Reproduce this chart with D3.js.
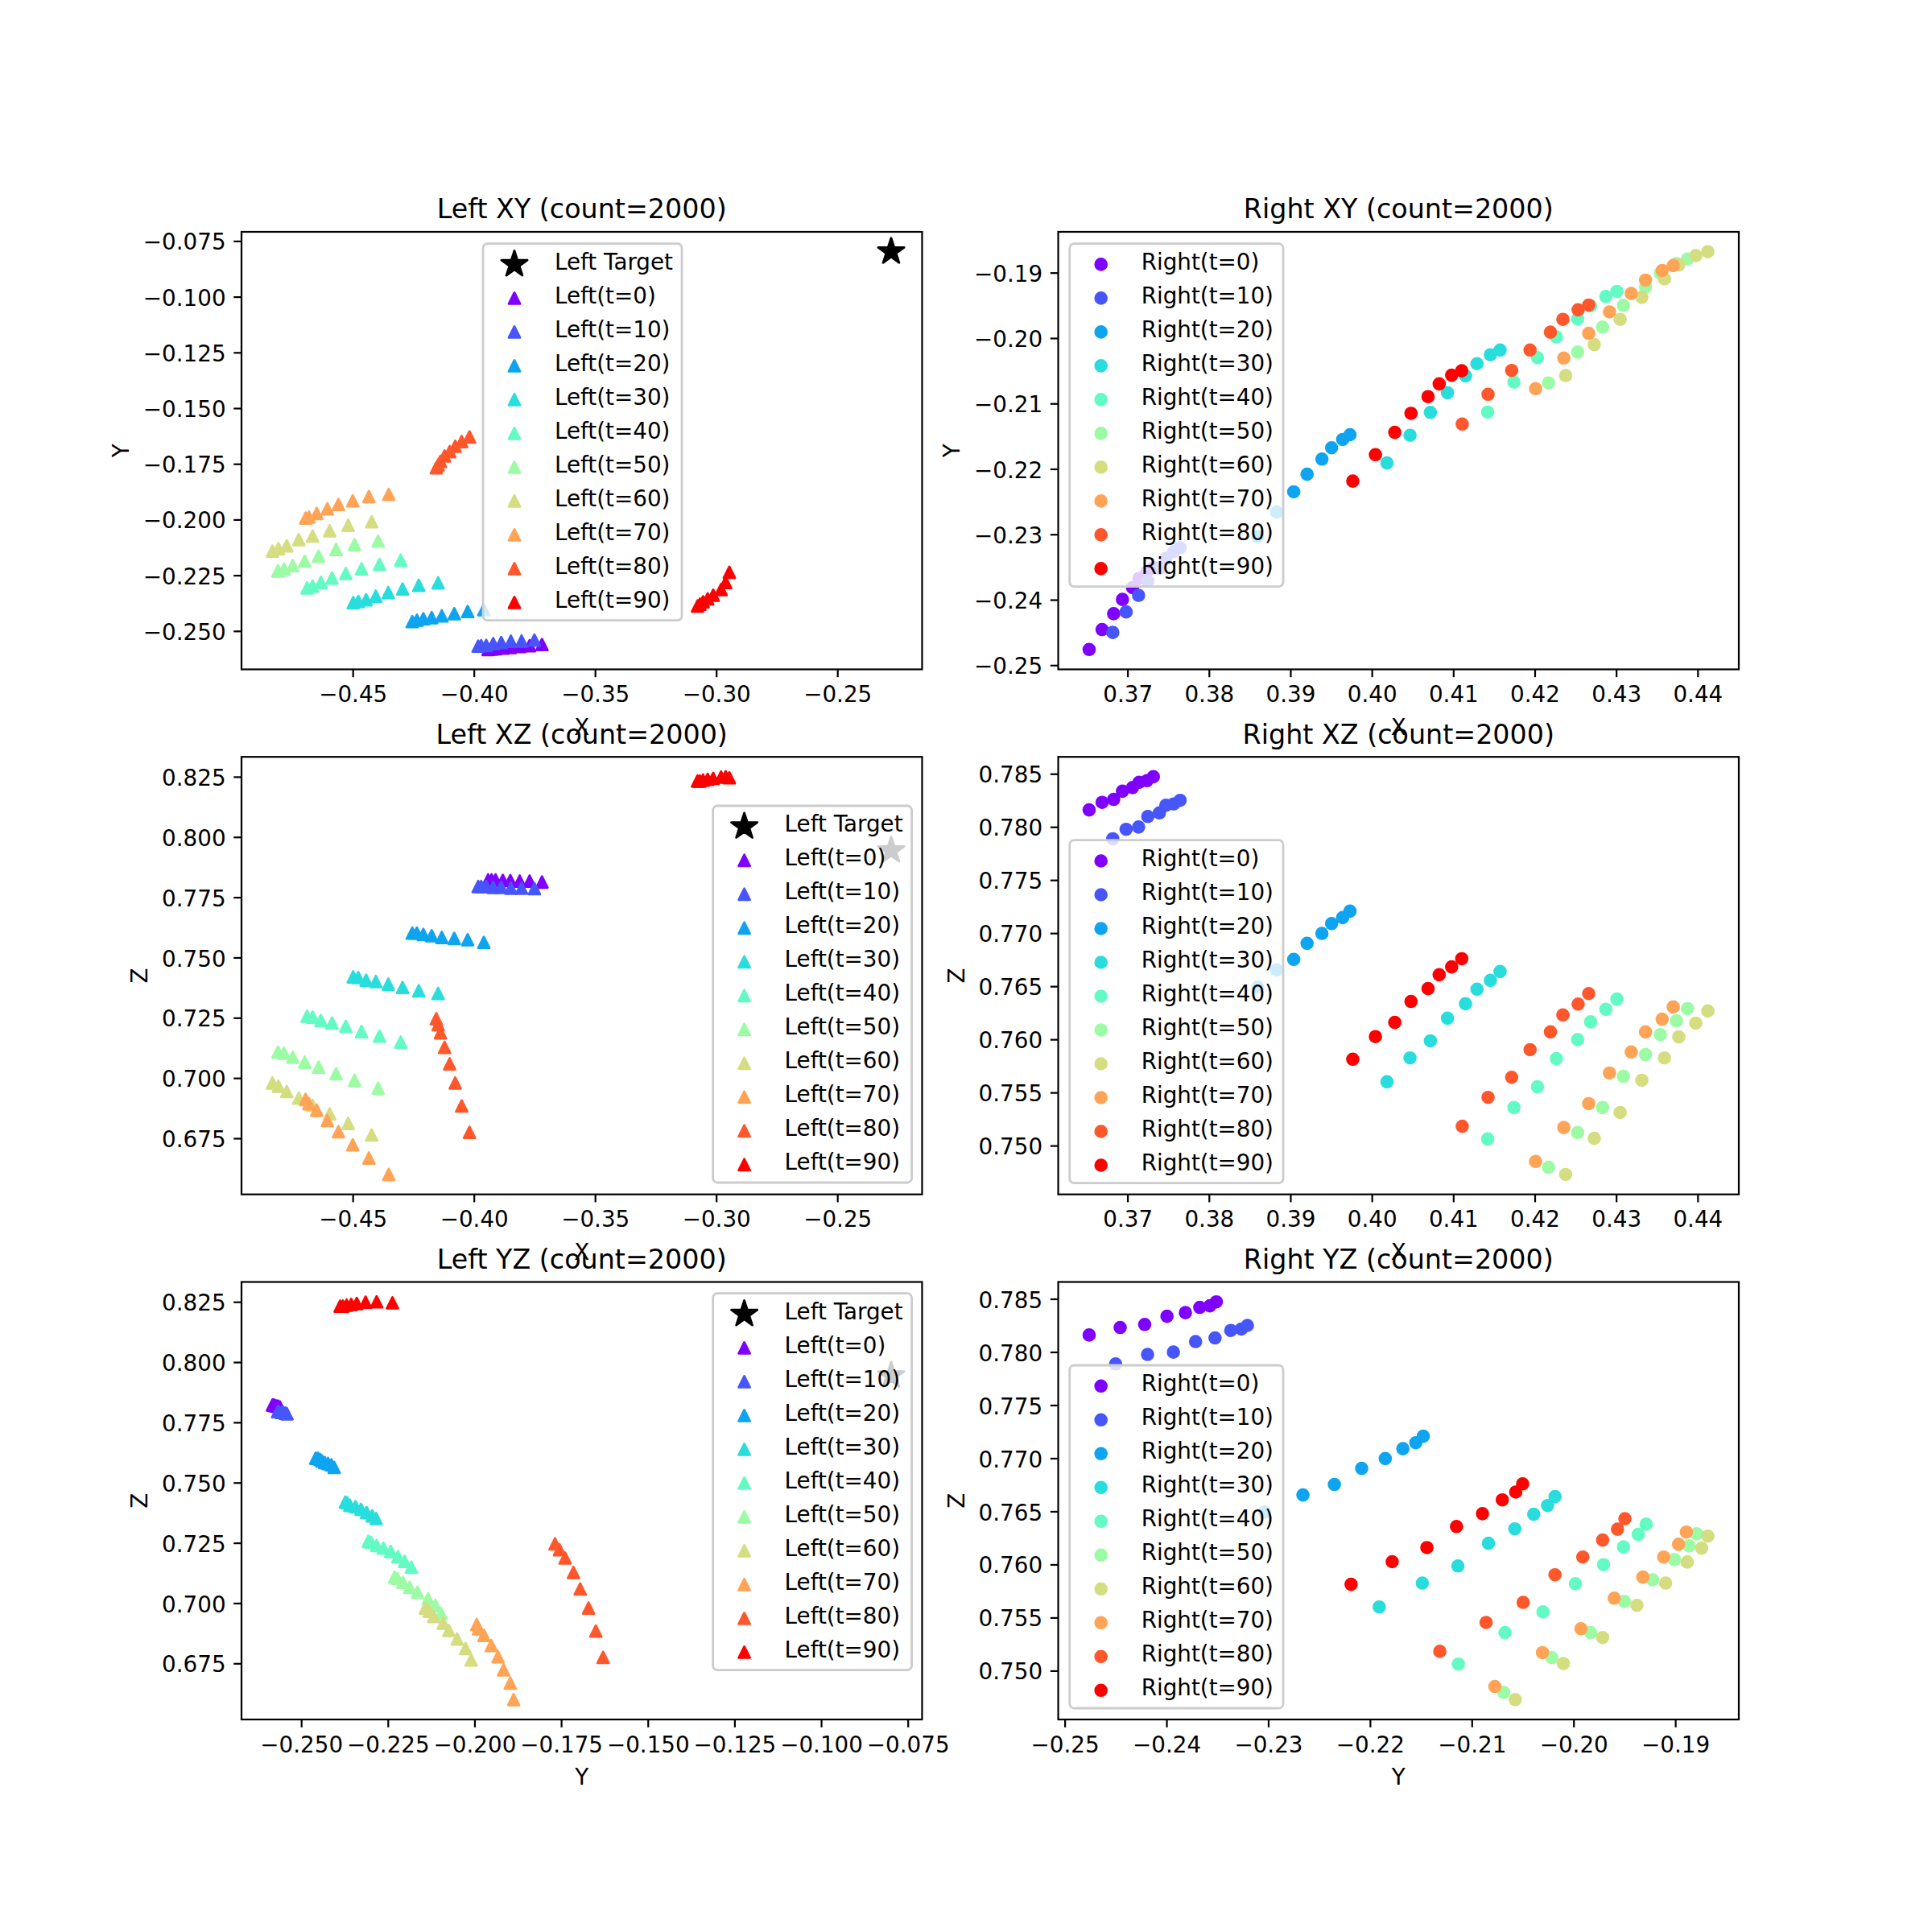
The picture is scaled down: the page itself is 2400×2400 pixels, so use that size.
<!DOCTYPE html>
<html>
<head>
<meta charset="utf-8">
<script src="https://cdn.jsdelivr.net/npm/d3@7"></script>
<style>
	html, body { margin: 0; background: #fff; }
	text { font-family: "DejaVu Sans", sans-serif; fill: #000; }
</style>
</head>
<body>
<script>
const times = [0, 10, 20, 30, 40, 50, 60, 70, 80, 90]
const colors = ['#7f00ff', '#4756fb', '#0ea4f0', '#2adddd', '#63fbc3', '#9cfba4', '#d4dd80', '#ffa457', '#ff572c', '#ff0000']

const leftTarget = [-0.2278, -0.0798, 0.7944]

const leftX = [
	[-0.39413, -0.3927, -0.39103, -0.38806, -0.38497, -0.38109, -0.37701, -0.3719],
	[-0.39824, -0.39701, -0.39492, -0.39204, -0.38872, -0.38474, -0.38032, -0.37502],
	[-0.42543, -0.42352, -0.42086, -0.41743, -0.41324, -0.4081, -0.40257, -0.3959],
	[-0.44981, -0.44771, -0.44448, -0.44048, -0.43533, -0.42943, -0.42276, -0.41476],
	[-0.46886, -0.46657, -0.46314, -0.45857, -0.45286, -0.44638, -0.43895, -0.43019],
	[-0.48086, -0.47838, -0.47476, -0.46981, -0.4641, -0.45686, -0.44924, -0.43952],
	[-0.48314, -0.48067, -0.47724, -0.47229, -0.46657, -0.45952, -0.4519, -0.44219],
	[-0.46943, -0.4681, -0.46486, -0.46048, -0.4559, -0.45, -0.44333, -0.43514],
	[-0.41552, -0.41476, -0.41381, -0.4121, -0.41, -0.40771, -0.40505, -0.40181],
	[-0.30771, -0.30676, -0.30543, -0.30352, -0.30124, -0.298, -0.2961, -0.29457]
]
const leftY = [
	[-0.2583, -0.2581, -0.258, -0.2577, -0.2574, -0.257, -0.2566, -0.2561],
	[-0.2568, -0.2566, -0.2565, -0.2557, -0.2552, -0.2546, -0.2545, -0.2541],
	[-0.24581, -0.24516, -0.24452, -0.24403, -0.24323, -0.24226, -0.24129, -0.24048],
	[-0.23726, -0.23677, -0.23597, -0.23435, -0.23274, -0.23113, -0.22952, -0.22839],
	[-0.23065, -0.22984, -0.22823, -0.22629, -0.22419, -0.2221, -0.22016, -0.21823],
	[-0.22306, -0.22226, -0.22065, -0.21871, -0.21645, -0.21339, -0.21129, -0.20968],
	[-0.21419, -0.21306, -0.21177, -0.20903, -0.20742, -0.205, -0.20258, -0.20097],
	[-0.19935, -0.19887, -0.19726, -0.19516, -0.19323, -0.19161, -0.18968, -0.18871],
	[-0.17677, -0.17548, -0.17387, -0.17145, -0.16952, -0.1671, -0.165, -0.1629],
	[-0.23878, -0.23798, -0.23691, -0.23557, -0.23397, -0.23143, -0.22823, -0.22368]
]
const leftZ = [
	[0.7822, 0.7822, 0.7822, 0.782, 0.7819, 0.7817, 0.7817, 0.7813],
	[0.77945, 0.77945, 0.77945, 0.77912, 0.77912, 0.77878, 0.77878, 0.77855],
	[0.76011, 0.76011, 0.75956, 0.75902, 0.75833, 0.75792, 0.75738, 0.75628],
	[0.74194, 0.74167, 0.74057, 0.74003, 0.73893, 0.73757, 0.7362, 0.73511],
	[0.72568, 0.72527, 0.72391, 0.72281, 0.72145, 0.71926, 0.71735, 0.71489],
	[0.71079, 0.71025, 0.70861, 0.70656, 0.70451, 0.70178, 0.69904, 0.69577],
	[0.69795, 0.69658, 0.6944, 0.69167, 0.68866, 0.68511, 0.68115, 0.67637],
	[0.69112, 0.68934, 0.68661, 0.68238, 0.67773, 0.67227, 0.6668, 0.65997],
	[0.72459, 0.72213, 0.71872, 0.7127, 0.70587, 0.69795, 0.68839, 0.67746],
	[0.82322, 0.82322, 0.82363, 0.82391, 0.82432, 0.82486, 0.825, 0.82459]
]

const rightX = [
	[0.36529, 0.36688, 0.3683, 0.36938, 0.37062, 0.37142, 0.37238, 0.37317],
	[0.36819, 0.36983, 0.37136, 0.37249, 0.37391, 0.37471, 0.37567, 0.37646],
	[0.38599, 0.38831, 0.39041, 0.39205, 0.39387, 0.39506, 0.39642, 0.39732],
	[0.40186, 0.40469, 0.40719, 0.40929, 0.4115, 0.41291, 0.41456, 0.41575],
	[0.41422, 0.41745, 0.42034, 0.42266, 0.42527, 0.42686, 0.42873, 0.43009],
	[0.4217, 0.42527, 0.42833, 0.43088, 0.43361, 0.43542, 0.4374, 0.43876],
	[0.4238, 0.42731, 0.43049, 0.43315, 0.43593, 0.43769, 0.43978, 0.44126],
	[0.42011, 0.42357, 0.42663, 0.42918, 0.43185, 0.43361, 0.43565, 0.43701],
	[0.4111, 0.41427, 0.41717, 0.41943, 0.42193, 0.42346, 0.42533, 0.42663],
	[0.39766, 0.40044, 0.40282, 0.40481, 0.4069, 0.40827, 0.4098, 0.41104]
]
const rightY = [
	[-0.2476, -0.24455, -0.24214, -0.23995, -0.23814, -0.23673, -0.23573, -0.2351],
	[-0.245, -0.24186, -0.23932, -0.23714, -0.23523, -0.23368, -0.23264, -0.23205],
	[-0.23036, -0.22659, -0.2235, -0.22082, -0.2185, -0.21677, -0.2155, -0.21477],
	[-0.21909, -0.21486, -0.21136, -0.20836, -0.20577, -0.20391, -0.20255, -0.20182],
	[-0.21132, -0.20673, -0.203, -0.19982, -0.19705, -0.19509, -0.19364, -0.19286],
	[-0.20686, -0.20214, -0.19832, -0.195, -0.19223, -0.19009, -0.18864, -0.18791],
	[-0.20573, -0.201, -0.19714, -0.19377, -0.19095, -0.18882, -0.18741, -0.1868],
	[-0.20773, -0.20305, -0.19927, -0.196, -0.19318, -0.19114, -0.18968, -0.18891],
	[-0.21314, -0.20859, -0.20495, -0.20182, -0.19909, -0.19714, -0.19568, -0.19495],
	[-0.22186, -0.21782, -0.21441, -0.2115, -0.20895, -0.207, -0.20568, -0.205]
]
const rightZ = [
	[0.7816, 0.78231, 0.78259, 0.78336, 0.7837, 0.7842, 0.78435, 0.78472],
	[0.77888, 0.77977, 0.77999, 0.78098, 0.78132, 0.78203, 0.78216, 0.7825],
	[0.76493, 0.76654, 0.76753, 0.76904, 0.76997, 0.7709, 0.77146, 0.77207],
	[0.756, 0.75825, 0.75986, 0.76199, 0.76335, 0.76472, 0.76555, 0.76639],
	[0.75062, 0.75358, 0.75553, 0.75819, 0.75998, 0.76165, 0.76283, 0.76379],
	[0.74796, 0.75123, 0.75358, 0.75652, 0.75856, 0.76045, 0.76175, 0.76289],
	[0.74728, 0.75068, 0.75312, 0.75615, 0.75825, 0.76023, 0.76153, 0.76267],
	[0.74851, 0.7517, 0.75395, 0.75683, 0.75881, 0.7607, 0.7619, 0.76305],
	[0.75182, 0.75454, 0.75643, 0.75903, 0.7607, 0.7623, 0.76332, 0.76431],
	[0.75813, 0.76026, 0.76159, 0.76357, 0.76478, 0.76608, 0.76682, 0.76759]
]

const leftXTicks = [-0.45, -0.40, -0.35, -0.30, -0.25]
const leftYTicks = [-0.25, -0.225, -0.2, -0.175, -0.15, -0.125, -0.1, -0.075]
const leftZTicks = [0.675, 0.7, 0.725, 0.75, 0.775, 0.8, 0.825]
const rightXTicks = [0.37, 0.38, 0.39, 0.40, 0.41, 0.42, 0.43, 0.44]
const rightYTicks = [-0.25, -0.24, -0.23, -0.22, -0.21, -0.20, -0.19]
const rightZTicks = [0.75, 0.755, 0.76, 0.765, 0.77, 0.775, 0.78, 0.785]

const dpi = 200 / 72
const fontSize = 10 * dpi
const titleSize = 12 * dpi
const markerLine = 2.8
const axisWidth = 845.45
const axisHeight = 543.5
const colLeft = [300, 1314.55]
const rowTop = [288, 940.2, 1592.5]

const panels = [
	{ title: 'Left XY', col: 0, row: 0, side: 'Left', xs: leftX, ys: leftY, target: [leftTarget[0], leftTarget[1]], xName: 'X', yName: 'Y', xTicks: leftXTicks, yTicks: leftYTicks, xFmt: '.2f', legend: [600, 302.6] },
	{ title: 'Right XY', col: 1, row: 0, side: 'Right', xs: rightX, ys: rightY, xName: 'X', yName: 'Y', xTicks: rightXTicks, yTicks: rightYTicks, xFmt: '.2f', yFmt: '.2f', legend: [1328.7, 302.6] },
	{ title: 'Left XZ', col: 0, row: 1, side: 'Left', xs: leftX, ys: leftZ, target: [leftTarget[0], leftTarget[2]], xName: 'X', yName: 'Z', xTicks: leftXTicks, yTicks: leftZTicks, xFmt: '.2f', legend: [885.6, 1001] },
	{ title: 'Right XZ', col: 1, row: 1, side: 'Right', xs: rightX, ys: rightZ, xName: 'X', yName: 'Z', xTicks: rightXTicks, yTicks: rightZTicks, xFmt: '.2f', legend: [1328.7, 1043.7] },
	{ title: 'Left YZ', col: 0, row: 2, side: 'Left', xs: leftY, ys: leftZ, target: [leftTarget[1], leftTarget[2]], xName: 'Y', yName: 'Z', xTicks: leftYTicks, yTicks: leftZTicks, xFmt: '.3f', legend: [885.6, 1606.6] },
	{ title: 'Right YZ', col: 1, row: 2, side: 'Right', xs: rightY, ys: rightZ, xName: 'Y', yName: 'Z', xTicks: rightYTicks, yTicks: rightZTicks, xFmt: '.2f', legend: [1328.7, 1696] }
]

// matplotlib's '^' is as wide as it is tall, d3.symbolTriangle is not
const triangleMark = {
	draw (context, size) {
		const h = Math.sqrt(size) / 2
		context.moveTo(0, -h)
		context.lineTo(h, h)
		context.lineTo(-h, h)
		context.closePath()
	}
}

const trianglePath = d3.symbol(triangleMark, 196)()
const circlePath = d3.symbol(d3.symbolCircle, Math.PI * 6.9 * 6.9)()
const starPath = d3.symbol(d3.symbolStar, 321)()

const svg = d3.select('body')
	.append('svg')
		.attr('width', 2400)
		.attr('height', 2400)
		.attr('viewBox', '0 0 2400 2400')
		.style('display', 'block')

// same 5% margin autoscale as the original
function paddedScale (values, range) {
	const [lo, hi] = d3.extent(values)
	const pad = (hi - lo) * 0.05
	return d3.scaleLinear().domain([lo - pad, hi + pad]).range(range)
}

function addMark (selection, path, color, x, y) {
	selection.append('path')
		.attr('d', path)
		.attr('transform', `translate(${x},${y})`)
		.attr('fill', color)
		.attr('stroke', color)
		.attr('stroke-width', markerLine)
		.attr('stroke-linejoin', 'round')
}

function styleAxis (axis, dy) {
	axis.attr('font-family', null).attr('font-size', null)
	axis.select('.domain').remove()
	axis.selectAll('.tick line').attr('stroke', '#000').attr('stroke-width', 0.8 * dpi)
	axis.selectAll('.tick text').attr('dy', dy).style('font-size', fontSize + 'px')
}

function drawLegend (axes, panel) {
	const [left, top] = panel.legend
	const mark = panel.side === 'Left' ? trianglePath : circlePath
	const rows = times.map((t, i) => ({
		label: panel.side + '(t=' + t + ')',
		color: colors[i],
		path: mark
	}))
	if (panel.target) {
		rows.unshift({ label: panel.side + ' Target', color: '#000', path: starPath })
	}
	const legend = axes.append('g').attr('class', 'legend')

	legend.append('rect')
		.attr('x', left)
		.attr('y', top)
		.attr('width', panel.side === 'Left' ? 247 : 265.3)
		.attr('height', rows.length * 42 + 6)
		.attr('rx', 0.2 * fontSize)
		.attr('fill', '#fff')
		.attr('fill-opacity', 0.8)
		.attr('stroke', '#ccc')
		.attr('stroke-width', dpi)

	rows.forEach((row, i) => {
		addMark(legend, row.path, row.color, left + 39, top + 25.8 + i * 42)
		legend.append('text')
			.attr('x', left + 89)
			.attr('y', top + 32 + i * 42)
			.style('font-size', fontSize + 'px')
			.text(row.label)
	})
}

function drawPanel (panel) {
	const left = colLeft[panel.col]
	const top = rowTop[panel.row]
	const right = left + axisWidth
	const bottom = top + axisHeight
	const targetX = panel.target ? [panel.target[0]] : []
	const targetY = panel.target ? [panel.target[1]] : []
	const x = paddedScale(panel.xs.flat().concat(targetX), [left, right])
	const y = paddedScale(panel.ys.flat().concat(targetY), [bottom, top])
	const axes = svg.append('g').attr('class', 'axes')
	const mark = panel.side === 'Left' ? trianglePath : circlePath

	if (panel.target) {
		addMark(axes, starPath, '#000', x(panel.target[0]), y(panel.target[1]))
	}

	panel.xs.forEach((series, s) => {
		series.forEach((value, i) => {
			addMark(axes, mark, colors[s], x(value), y(panel.ys[s][i]))
		})
	})

	axes.append('rect')
		.attr('x', left)
		.attr('y', top)
		.attr('width', axisWidth)
		.attr('height', axisHeight)
		.attr('fill', 'none')
		.attr('stroke', '#000')
		.attr('stroke-width', 0.8 * dpi)

	axes.append('g')
		.attr('transform', `translate(0,${bottom})`)
		.call(d3.axisBottom(x)
			.tickValues(panel.xTicks)
			.tickFormat(d3.format(panel.xFmt))
			.tickSize(3.5 * dpi)
			.tickPadding(3.5 * dpi))
		.call(styleAxis, '0.76em')

	const yAxis = axes.append('g')
		.attr('transform', `translate(${left},0)`)
		.call(d3.axisLeft(y)
			.tickValues(panel.yTicks)
			.tickFormat(d3.format(panel.yFmt || '.3f'))
			.tickSize(3.5 * dpi)
			.tickPadding(3.5 * dpi))
		.call(styleAxis, '0.38em')

	axes.append('text')
		.attr('x', left + axisWidth / 2)
		.attr('y', top - 6 * dpi)
		.attr('text-anchor', 'middle')
		.style('font-size', titleSize + 'px')
		.text(panel.title + ' (count=2000)')

	axes.append('text')
		.attr('x', left + axisWidth / 2)
		.attr('y', bottom + 81)
		.attr('text-anchor', 'middle')
		.style('font-size', fontSize + 'px')
		.text(panel.xName)

	const labelX = left + yAxis.node().getBBox().x - 4 * dpi - 0.236 * fontSize
	axes.append('text')
		.attr('transform', `translate(${labelX},${top + axisHeight / 2}) rotate(-90)`)
		.attr('text-anchor', 'middle')
		.style('font-size', fontSize + 'px')
		.text(panel.yName)

	drawLegend(axes, panel)
}

panels.forEach(drawPanel)
</script>
</body>
</html>
